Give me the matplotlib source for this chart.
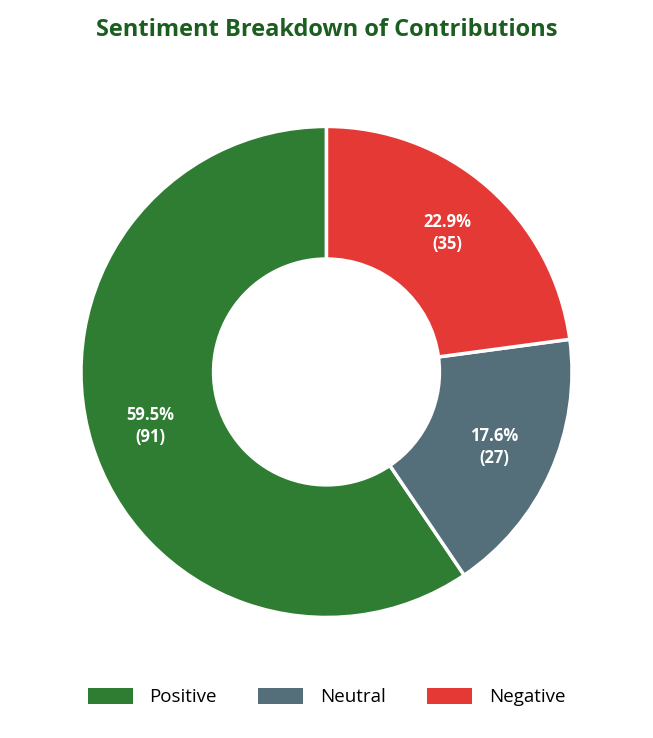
import matplotlib.pyplot as plt
from matplotlib.patches import Patch

labels = ['Positive', 'Neutral', 'Negative']
counts = [91, 27, 35]
colors = ['#2e7d32', '#546e7a', '#e53935']

plt.rcParams['font.family'] = ['Open Sans', 'DejaVu Sans']

fig = plt.figure(figsize=(6.53, 7.38), dpi=100)
ax = fig.add_axes([0.12, 0.16, 0.76, 0.672])

total = sum(counts)

def fmt(pct):
    return '{:.1f}%\n({:d})'.format(pct, int(round(pct * total / 100)))

wedges, texts, autotexts = ax.pie(
    counts, colors=colors, startangle=90, autopct=fmt, pctdistance=0.75,
    wedgeprops=dict(width=0.54, edgecolor='white', linewidth=2.5),
    textprops=dict(color='white', fontsize=12, fontweight='bold'))
for t in autotexts:
    t.set_linespacing(1.3)
ax.set_xlim(-1.01, 1.01)
ax.set_ylim(-1.01, 1.01)
ax.set_aspect('equal')

fig.suptitle('Sentiment Breakdown of Contributions', y=0.975,
             fontsize=17, fontweight='bold', color='#1b5e20')

handles = [Patch(facecolor=c, label=l) for c, l in zip(colors, labels)]
fig.legend(handles=handles, loc='lower center', ncol=3, frameon=False,
           fontsize=13.5, bbox_to_anchor=(0.5, 0.02), handlelength=2.4,
           handleheight=0.9, columnspacing=2.2, handletextpad=0.9)

fig.savefig('out.png', dpi=100)
